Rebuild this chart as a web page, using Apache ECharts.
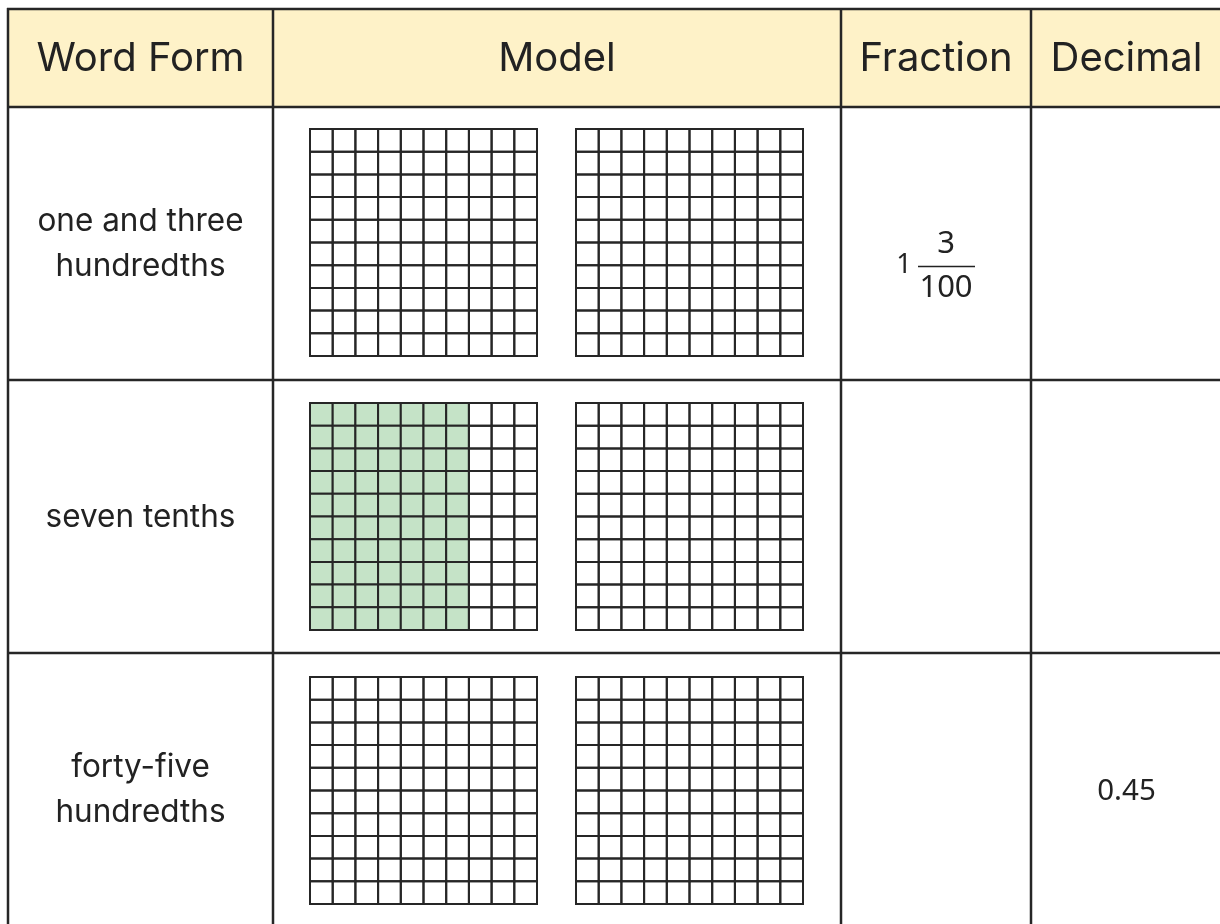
<!DOCTYPE html>
<html>
<head>
<meta charset="utf-8">
<script src="https://cdn.jsdelivr.net/npm/echarts@6/dist/echarts.min.js"></script>
<style>
  html, body { margin: 0; padding: 0; background: #fff; }
  #main { width: 1220px; height: 924px; }
</style>
</head>
<body>
<div id="main"></div>
<script>
// table content
const headers = ['Word Form', 'Model', 'Fraction', 'Decimal'];
const wordForms = ['one and three\nhundredths', 'seven tenths', 'forty-five\nhundredths'];
const fractionWhole = ['1', '', ''];
const fractionNum = ['3', '', ''];
const fractionDen = ['100', '', ''];
const decimals = ['', '', '0.45'];
// shaded hundredths in each 10x10 model, filled column by column
const shadedLeft = [0, 70, 0];
const shadedRight = [0, 0, 0];
const modelSize = 10;

var chart = echarts.init(document.getElementById('main'));

// layout (pixels)
var colX = [8, 273, 841, 1031, 1222];
var rowY = [9, 107, 380, 653, 926];
var gridLeft = [310, 576];
var gridTop = [129, 403, 677];
var gridWH = 227;
var lineColor = '#262626';
var green = '#c5e3c7';

function cellsFor(count) {
  var out = [];
  for (var c = 0; c < modelSize; c++) {
    for (var r = 0; r < modelSize; r++) {
      var k = c * modelSize + r;
      out.push([c, modelSize - 1 - r, k < count ? 1 : 0]);
    }
  }
  return out;
}

var grids = [], xAxes = [], yAxes = [], series = [];
for (var row = 0; row < 3; row++) {
  [shadedLeft, shadedRight].forEach(function (arr, side) {
    var idx = grids.length;
    grids.push({ left: gridLeft[side], top: gridTop[row], width: gridWH, height: gridWH });
    xAxes.push({ type: 'value', gridIndex: idx, min: 0, max: modelSize, show: false });
    yAxes.push({ type: 'value', gridIndex: idx, min: 0, max: modelSize, show: false });
    series.push({
      type: 'custom',
      xAxisIndex: idx,
      yAxisIndex: idx,
      silent: true,
      data: cellsFor(arr[row]),
      renderItem: function (params, api) {
        var p = api.coord([api.value(0), api.value(1) + 1]);
        var s = api.size([1, 1]);
        return {
          type: 'rect',
          shape: { x: p[0], y: p[1], width: s[0], height: s[1] },
          style: {
            fill: api.value(2) ? green : 'rgba(0,0,0,0)',
            stroke: lineColor,
            lineWidth: 2
          }
        };
      }
    });
  });
}

var graphic = [];
// header background
graphic.push({
  type: 'rect', z: -10,
  shape: { x: colX[0], y: rowY[0], width: colX[4] - colX[0], height: rowY[1] - rowY[0] },
  style: { fill: '#fef2c8' }
});
// horizontal lines
rowY.slice(0, 4).forEach(function (y) {
  graphic.push({
    type: 'line', z: 10,
    shape: { x1: colX[0] - 1, y1: y, x2: 1220, y2: y },
    style: { stroke: lineColor, lineWidth: 2.5 }
  });
});
// vertical lines
colX.slice(0, 4).forEach(function (x) {
  graphic.push({
    type: 'line', z: 10,
    shape: { x1: x, y1: rowY[0] - 1, x2: x, y2: 924 },
    style: { stroke: lineColor, lineWidth: 2.5 }
  });
});

function txt(x, y, s, size, font) {
  graphic.push({
    type: 'text', z: 20, x: x, y: y,
    style: {
      text: s, fill: '#222', fontSize: size, fontFamily: font,
      align: 'center', verticalAlign: 'middle', lineHeight: 45
    }
  });
}

headers.forEach(function (h, i) {
  txt((colX[i] + colX[i + 1]) / 2, (rowY[0] + rowY[1]) / 2 + 1, h, 40, 'Inter');
});

for (var r = 0; r < 3; r++) {
  var cy = (rowY[r + 1] + rowY[r + 2]) / 2;
  txt((colX[0] + colX[1]) / 2, cy + 1, wordForms[r], 31.5, 'Inter');
  if (decimals[r]) txt((colX[3] + colX[4]) / 2, cy + 2, decimals[r], 29.5, 'Noto Sans');
  if (fractionNum[r]) {
    var fx = (colX[2] + colX[3]) / 2;
    txt(fx - 32, cy + 22, fractionWhole[r], 27, 'Noto Sans');
    txt(fx + 10, cy + 1, fractionNum[r], 31, 'Noto Sans');
    txt(fx + 10, cy + 45, fractionDen[r], 31, 'Noto Sans');
    graphic.push({
      type: 'line', z: 20,
      shape: { x1: fx - 18, y1: cy + 23, x2: fx + 39, y2: cy + 23 },
      style: { stroke: '#222', lineWidth: 1.5 }
    });
  }
}

chart.setOption({
  animation: false,
  backgroundColor: '#fff',
  grid: grids,
  xAxis: xAxes,
  yAxis: yAxes,
  series: series,
  graphic: graphic
});
</script>
</body>
</html>
